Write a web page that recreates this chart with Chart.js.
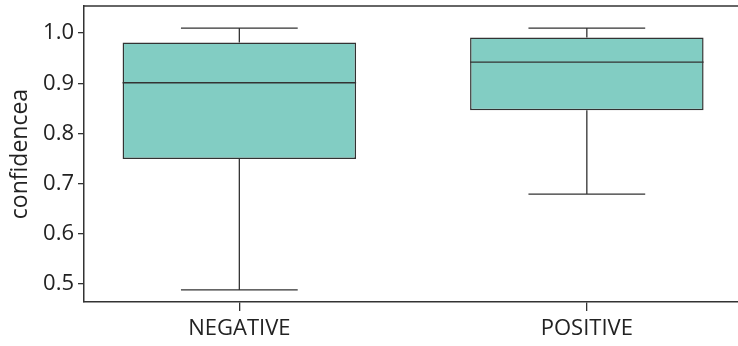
<!DOCTYPE html>
<html>
<head>
<meta charset="utf-8">
<script src="https://cdn.jsdelivr.net/npm/chart.js@4"></script>
<style>
  html, body { margin: 0; padding: 0; background: #fff; }
  #wrap { width: 738px; height: 346px; }
</style>
</head>
<body>
<div id="wrap"><canvas id="chart" width="738" height="346"></canvas></div>
<script>
var ctx = document.getElementById('chart').getContext('2d')

const categories = ['NEGATIVE', 'POSITIVE']
const whiskerLow = [0.488, 0.679]
const q1 = [0.749, 0.846]
const median = [0.901, 0.942]
const q3 = [0.981, 0.991]
const whiskerHigh = [1.01, 1.01]
const yTicks = [0.5, 0.6, 0.7, 0.8, 0.9, 1.0]

const lineColor = '#333333'
const fontFamily = '"Open Sans", "Noto Sans", sans-serif'

// whiskers, caps and medians drawn on top of the floating bars
const boxExtras = {
  id: 'boxExtras',
  afterDatasetsDraw(chart) {
    const x = chart.scales.x
    const y = chart.scales.y
    const bars = chart.getDatasetMeta(0).data
    const c = chart.ctx
    c.save()
    c.strokeStyle = lineColor
    c.lineWidth = 1.3
    categories.forEach((cat, i) => {
      const cx = x.getPixelForValue(i)
      const half = bars[i].width / 2
      const cap = half / 2
      const pLo = y.getPixelForValue(whiskerLow[i])
      const pQ1 = y.getPixelForValue(q1[i])
      const pMed = y.getPixelForValue(median[i])
      const pQ3 = y.getPixelForValue(q3[i])
      const pHi = y.getPixelForValue(whiskerHigh[i])
      c.beginPath()
      c.moveTo(cx, pQ1); c.lineTo(cx, pLo)
      c.moveTo(cx, pQ3); c.lineTo(cx, pHi)
      c.moveTo(cx - cap, pLo); c.lineTo(cx + cap, pLo)
      c.moveTo(cx - cap, pHi); c.lineTo(cx + cap, pHi)
      c.moveTo(cx - half, pMed); c.lineTo(cx + half, pMed)
      c.stroke()
    })
    // top frame line
    const a = chart.chartArea
    c.lineWidth = 1.5
    c.beginPath()
    c.moveTo(a.left, a.top); c.lineTo(a.right, a.top)
    c.stroke()
    c.restore()
  }
}

const chart = new Chart(ctx, {
  type: 'bar',
  data: {
    datasets: [
      {
        label: 'confidencea',
        data: categories.map((c, i) => ({ x: i, y: [q1[i], q3[i]] })),
        backgroundColor: '#82cdc3',
        borderColor: lineColor,
        borderWidth: 1.5,
        borderSkipped: false,
        barPercentage: 0.672,
        categoryPercentage: 1,
      },
    ],
  },
  options: {
    responsive: false,
    animation: false,
    layout: { padding: { top: 6, right: 0, left: 0, bottom: 0 } },
    plugins: {
      legend: { display: false },
      tooltip: { enabled: false },
    },
    scales: {
      x: {
        type: 'linear',
        offset: false,
        min: -0.447,
        max: 1.435,
        afterBuildTicks: (axis) => {
          axis.ticks = categories.map((c, i) => ({ value: i }))
        },
        afterFit: (axis) => {
          axis.height = 44
          axis.paddingLeft = 0
          axis.paddingRight = 0
        },
        grid: { offset: false, drawOnChartArea: false, drawTicks: true, tickLength: 9, color: lineColor, lineWidth: 1.3 },
        border: { display: true, color: lineColor, width: 1.5 },
        ticks: {
          callback: (v) => categories[v],
          color: '#222',
          padding: 5,
          maxRotation: 0,
          font: { family: fontFamily, size: 22 },
        },
      },
      y: {
        min: 0.464,
        max: 1.054,
        afterBuildTicks: (axis) => {
          axis.ticks = yTicks.map((v) => ({ value: v }))
        },
        afterFit: (axis) => {
          axis.width = 84
          axis.paddingTop = 0
          axis.paddingBottom = 0
        },
        grid: { drawOnChartArea: false, drawTicks: true, tickLength: 6, color: lineColor, lineWidth: 1.3 },
        border: { display: true, color: lineColor, width: 1.5 },
        ticks: {
          callback: (v) => v.toFixed(1),
          color: '#222',
          padding: 4,
          font: { family: fontFamily, size: 22 },
        },
        title: {
          display: true,
          text: 'confidencea',
          color: '#222',
          padding: { top: 7, bottom: 0 },
          font: { family: fontFamily, size: 23 },
        },
      },
    },
  },
  plugins: [boxExtras],
})
</script>
</body>
</html>
